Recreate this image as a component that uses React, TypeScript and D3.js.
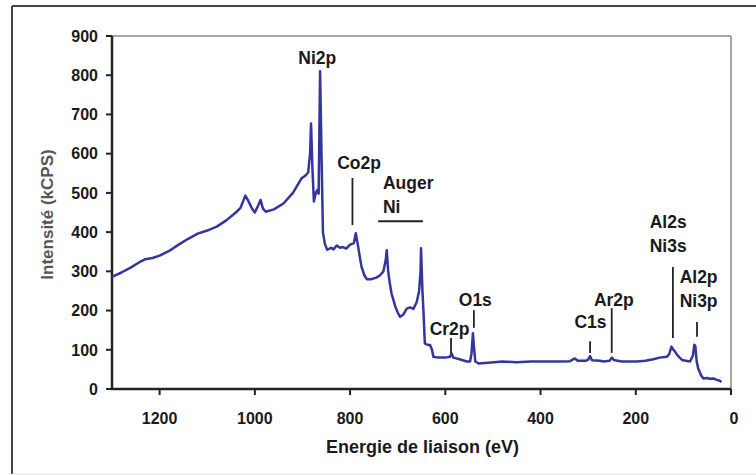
import React from "react";
import * as d3 from "d3";

// Binding energy (eV) and intensity (kCPS)
const energies = [
  1300, 1280, 1260, 1240, 1230, 1215, 1200, 1180, 1160, 1140, 1120, 1100, 1080, 1060, 1040, 1030,
  1020, 1014, 1005, 1000, 993, 988, 983, 977, 960, 940, 920, 902, 895, 888, 884, 882, 879, 876,
  872, 869, 866, 863, 860, 857, 853, 848, 840, 835, 828, 821, 815, 808, 800, 792, 788, 784, 780,
  776, 770, 765, 755, 745, 737, 730, 725, 723, 720, 716, 713, 705, 700, 695, 688, 681, 674, 667,
  660, 655, 652, 651, 648, 646, 643, 638, 632, 628, 625, 615, 600, 590, 587, 583, 570, 555, 548,
  545, 542, 540, 537, 530, 510, 480, 450, 420, 390, 360, 338, 328, 322, 305, 300, 296, 292, 275,
  268, 255, 250, 246, 230, 198, 180, 163, 150, 135, 130, 125, 121, 118, 112, 103, 95, 86, 80, 77,
  75, 72, 69, 63, 58, 50, 45, 37, 30, 25, 20,
];
const intensities = [
  286, 297, 310, 325, 331, 334, 340, 352, 368, 383, 396, 404, 414, 430, 450, 462,
  493, 480, 458, 450, 468, 482, 460, 452, 458, 473, 500, 537, 543, 552, 600, 677, 560, 478,
  500, 507, 498, 810, 600, 400, 370, 355, 360, 356, 366, 360, 362, 358, 368, 372, 397, 370, 340,
  312, 290, 280, 280, 284, 290, 300, 330, 354, 300, 265, 244, 210, 195, 184, 190, 205, 208, 204,
  222, 250, 300, 359, 250, 201, 116, 113, 112, 100, 82, 80, 80, 82, 91, 80, 76, 70, 70,
  90, 142, 110, 70, 65, 67, 70, 68, 70, 70, 70, 71, 78, 72, 72, 75, 84, 73, 72,
  70, 72, 80, 74, 70, 70, 72, 76, 80, 82, 88, 108, 100, 96, 85, 74, 72, 70, 85, 113,
  110, 70, 53, 35, 27, 28, 26, 27, 23, 22, 18,
];

const xTicks = [1200, 1000, 800, 600, 400, 200, 0];
const yTicks = [0, 100, 200, 300, 400, 500, 600, 700, 800, 900];

// Peak annotations: label lines, label anchor (eV, kCPS), marker line (eV, from, to)
const labelLines = [["Ni2p"], ["Co2p"], ["Auger", "Ni"], ["Cr2p"], ["O1s"], ["C1s"], ["Ar2p"], ["Al2s", "Ni3s"], ["Al2p", "Ni3p"]];
const labelEv = [869, 781, 731, 591, 537, 295, 246, 132, 68];
const labelKcps = [844, 576, 525, 153, 227, 171, 227, 426, 286];
const labelAnchor = ["middle", "middle", "start", "middle", "middle", "middle", "middle", "middle", "middle"];
const markerEv = [null, 795, null, 588, 540, 296, 250.5, 122, 71.4];
const markerFrom = [null, 538, null, 130, 201, 122, 206, 311, 171];
const markerTo = [null, 418, null, 92, 156, 92, 92, 130, 133];
// Horizontal bar for the Auger Ni region
const augerRange = [741, 647];
const augerLevel = 428;

const W = 756;
const H = 475;
const left = 112;
const right = 731;
const top = 36;
const bottom = 389;

export default function App() {
  const x = d3.scaleLinear().domain([1300, 0]).range([left, right]);
  const y = d3.scaleLinear().domain([0, 900]).range([bottom, top]);
  const data = energies.map((e, i) => [e, intensities[i]] as [number, number]);
  const line = d3
    .line<[number, number]>()
    .x((d) => x(d[0]))
    .y((d) => y(d[1]));

  const font = "'Liberation Sans', Arial, sans-serif";
  const textColor = "#1a1a1a";
  const lineH = 24;

  return (
    <svg
      width={W}
      height={H}
      style={{ position: "absolute", left: 0, top: 0, background: "#fff" }}
      fontFamily={font}
      fontWeight="bold"
    >
      {/* outer frame */}
      <line x1={12} y1={6} x2={W} y2={6} stroke="#444" strokeWidth={2} />
      <line x1={12} y1={6} x2={12} y2={474} stroke="#444" strokeWidth={2} />
      <line x1={12} y1={474} x2={W} y2={474} stroke="#ddd" strokeWidth={1} />

      {/* plot box top/right */}
      <line x1={left} y1={top} x2={right} y2={top} stroke="#888" strokeWidth={1.5} />
      <line x1={right} y1={top} x2={right} y2={bottom} stroke="#888" strokeWidth={1.5} />

      {/* y ticks */}
      {yTicks.map((t) => (
        <g key={"y" + t}>
          <line x1={left - 6} x2={left} y1={y(t)} y2={y(t)} stroke="#222" strokeWidth={2} />
          <text x={98} y={y(t)} dy="0.36em" textAnchor="end" fontSize={16} fill={textColor}>
            {t}
          </text>
        </g>
      ))}
      {/* x ticks */}
      {xTicks.map((t) => (
        <g key={"x" + t}>
          <line x1={x(t)} x2={x(t)} y1={bottom} y2={bottom + 6} stroke="#222" strokeWidth={2} />
          <text x={x(t) + (t === 0 ? 3 : 0)} y={418} dy="0.36em" textAnchor="middle" fontSize={16} fill={textColor}>
            {t}
          </text>
        </g>
      ))}

      {/* axes */}
      <line x1={left} y1={top} x2={left} y2={bottom + 1} stroke="#222" strokeWidth={2.5} />
      <line x1={left - 1} y1={bottom} x2={right} y2={bottom} stroke="#222" strokeWidth={2.5} />

      {/* spectrum */}
      <path d={line(data) || ""} fill="none" stroke="#35359e" strokeWidth={2.5} strokeLinejoin="round" />

      {/* annotations */}
      {labelLines.map((lines, i) => (
        <g key={"l" + i}>
          {lines.map((s, j) => (
            <text
              key={j}
              x={x(labelEv[i])}
              y={y(labelKcps[i]) + j * lineH}
              dy="0.36em"
              textAnchor={labelAnchor[i] as any}
              fontSize={17.5}
              fill={textColor}
            >
              {s}
            </text>
          ))}
          {markerEv[i] !== null && (
            <line
              x1={x(markerEv[i] as number)}
              x2={x(markerEv[i] as number)}
              y1={y(markerFrom[i] as number)}
              y2={y(markerTo[i] as number)}
              stroke="#222"
              strokeWidth={1.8}
            />
          )}
        </g>
      ))}
      <line x1={x(augerRange[0])} x2={x(augerRange[1])} y1={y(augerLevel)} y2={y(augerLevel)} stroke="#222" strokeWidth={2} />

      {/* axis titles */}
      <text x={(left + right) / 2 + 1} y={447} dy="0.36em" textAnchor="middle" fontSize={18} fill={textColor}>
        Energie de liaison (eV)
      </text>
      <text
        transform={`translate(47,${(top + bottom) / 2 + 2}) rotate(-90)`}
        dy="0.36em"
        textAnchor="middle"
        fontSize={17}
        fill="#555"
      >
        Intensité (kCPS)
      </text>
    </svg>
  );
}
